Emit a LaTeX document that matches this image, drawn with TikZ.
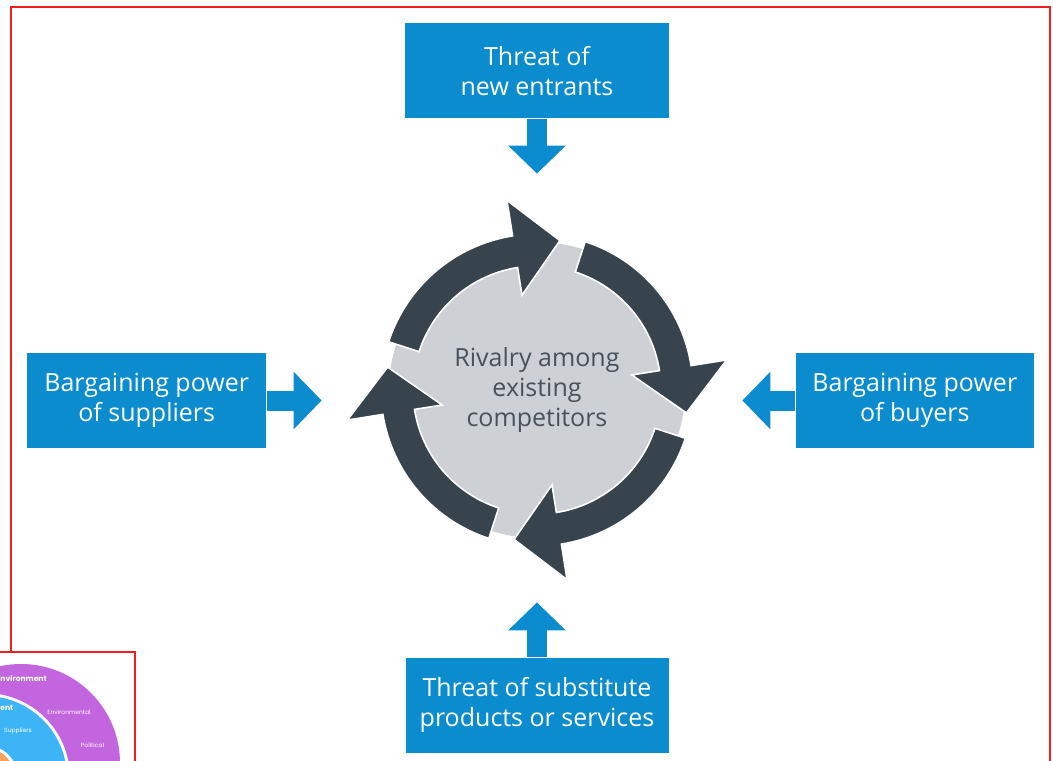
\documentclass[tikz,border=0pt]{standalone}
\usepackage{fontspec}
\setmainfont{Open Sans}
\newfontfamily\fragfont{Poppins}
\usepackage{tikz}
\usetikzlibrary{arrows.meta,positioning,calc}

\definecolor{forceblue}{HTML}{0A8CCE}
\definecolor{ringdark}{HTML}{37434D}
\definecolor{ringgrey}{HTML}{CDD0D4}
\definecolor{rivaltext}{HTML}{48525C}
\definecolor{framered}{HTML}{F21D1D}
\definecolor{macropurple}{HTML}{C465E0}
\definecolor{microblue}{HTML}{3CB4F6}
\definecolor{coreorange}{HTML}{F5A25D}

\begin{document}
\begin{tikzpicture}[x=0.5pt,y=0.5pt,
  force/.style={fill=forceblue,text=white,minimum height=47.5pt,
    inner sep=0pt,align=center,font=\fontsize{12.5}{15}\selectfont},
  push/.style={forceblue,line width=10pt,-{Triangle[width=28pt,length=14pt]}},
  cyc/.style={fill=ringdark,draw=white,line width=0.8pt},
  fraglabel/.style={text=white,inner sep=0pt,font=\fragfont\fontsize{3}{3}\selectfont},
  fraghead/.style={text=white,inner sep=0pt,anchor=west,
    font=\fragfont\bfseries\fontsize{3.8}{4}\selectfont}]
\useasboundingbox (-537,-370) rectangle (516,390);
\draw[framered,line width=1pt] (-526,383) rectangle (513,-400);

% centre and the four forces
\node[circle,fill=ringgrey,minimum size=148pt,inner sep=0pt,text=rivaltext,
  align=center,font=\fontsize{12.5}{15}\selectfont] (rivalry) at (0,0)
  {Rivalry among\\existing\\competitors};
\node[force,minimum width=132pt,above=61.5pt of rivalry] (entrants) {Threat of\\new entrants};
\node[force,minimum width=119.5pt,left=61pt of rivalry,yshift=-5.25pt] (suppliers) {Bargaining power\\of suppliers};
\node[force,minimum width=119pt,right=55pt of rivalry,yshift=-5.25pt] (buyers) {Bargaining power\\of buyers};
\node[force,minimum width=131.5pt,below=59.5pt of rivalry] (substitutes) {Threat of substitute\\products or services};

% ring of curved arrows
\foreach \r in {0,90,180,270}
  \filldraw[cyc,rotate=-\r] (162:156) arc[start angle=162,end angle=99,radius=156]
    -- (99:192) -- ($(99:144)+(9:46)$) -- (99:96) -- (99:124)
    arc[start angle=99,end angle=162,radius=124] -- cycle;

% forces pushing in
\draw[push,shorten >=34pt] (entrants.south) -- (rivalry.north);
\draw[push,shorten >=33.5pt] (suppliers.east) -- (suppliers.east -| rivalry.west);
\draw[push,shorten >=28.5pt] (buyers.west) -- (buyers.west -| rivalry.east);
\draw[push,shorten >=32pt] (substitutes.north) -- (rivalry.south);

% corner of the other picture
\draw[framered,line width=1pt,fill=white] (-560,-262) rectangle (-402,-400);
\begin{scope}
  \clip (-560,-263) rectangle (-403,-400);
  \fill[macropurple] (-516,-373) circle[radius=99];
  \fill[white] (-552,-388) circle[radius=85];
  \fill[microblue] (-552,-388) circle[radius=82];
  \fill[white] (-552,-388) circle[radius=33];
  \fill[coreorange] (-552,-388) circle[radius=30];
  \node[fraghead] (macro) at (-537,-288) {nvironment};
  \node[fraghead] (micro) at (-537,-318) {ent};
  \node[fraglabel] (env) at (-468,-322) {Environmental};
  \node[fraglabel] (supp) at (-519,-341) {Suppliers};
  \node[fraglabel] (pol) at (-444.5,-355) {Political};
\end{scope}
\end{tikzpicture}
\end{document}
